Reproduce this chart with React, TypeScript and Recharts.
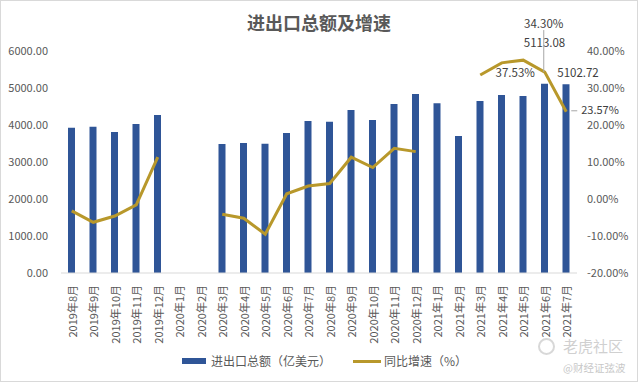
import { ComposedChart, Bar, Line, XAxis, YAxis, LabelList } from 'recharts';

const months = [
  '2019年8月', '2019年9月', '2019年10月', '2019年11月', '2019年12月',
  '2020年1月', '2020年2月', '2020年3月', '2020年4月', '2020年5月',
  '2020年6月', '2020年7月', '2020年8月', '2020年9月', '2020年10月',
  '2020年11月', '2020年12月', '2021年1月', '2021年2月', '2021年3月',
  '2021年4月', '2021年5月', '2021年6月', '2021年7月',
];

// 进出口总额（亿美元）
const totals = [
  3927, 3955, 3811, 4027, 4270,
  null, null, 3486, 3514, 3490,
  3784, 4108, 4089, 4405, 4135,
  4568, 4838, 4586, 3703, 4649,
  4811, 4784, 5113.08, 5102.72,
];

// 同比增速（%）
const growth = [
  -3.2, -6.3, -4.6, -1.6, 11.3,
  null, null, -4.1, -5.2, -9.5,
  1.4, 3.5, 4.2, 11.3, 8.5,
  13.7, 12.8, null, null, 33.5,
  36.8, 37.53, 34.3, 23.57,
];

const leftTicks = [0, 1000, 2000, 3000, 4000, 5000, 6000];
const rightTicks = [-20, -10, 0, 10, 20, 30, 40];

const data = months.map((m, i) => ({ month: m, total: totals[i], growth: growth[i] }));

const BAR = '#2F5597';
const GOLD = '#B8982B';
const TICK = '#595959';
const LABEL = '#404040';
const FONT = '"Noto Sans CJK SC", "Noto Sans", sans-serif';

const MonthTick = ({ x, y, payload }: any) => (
  <text
    x={x}
    y={y}
    transform={`rotate(-90 ${x} ${y})`}
    textAnchor="end"
    dominantBaseline="central"
    fontSize={11}
    fill={TICK}
    fontFamily={FONT}
  >
    {payload.value}
  </text>
);

const barLabel = (props: any) => {
  const { x, y, width, value } = props;
  const idx = totals.indexOf(Number(value));
  if (idx !== 22 && idx !== 23) return null;
  const cx = Number(x) + Number(width) / 2 + (idx === 23 ? 12 : 0);
  const ty = idx === 22 ? Number(y) - 42 : Number(y) - 12;
  return (
    <text x={cx} y={ty} textAnchor="middle" dominantBaseline="central" fontSize={11.5} fill={LABEL} fontFamily={FONT}>
      {Number(value).toFixed(2)}
    </text>
  );
};

const lineLabel = (props: any) => {
  const { x, y, value, index } = props;
  const txt = `${Number(value).toFixed(2)}%`;
  if (index === 21) {
    return (
      <text x={x - 8} y={y + 12} textAnchor="middle" dominantBaseline="central" fontSize={11.5} fill={LABEL} fontFamily={FONT}>
        {txt}
      </text>
    );
  }
  if (index === 22) {
    return (
      <g>
        <line x1={x - 1} y1={y - 42} x2={x - 1} y2={y} stroke="#A6A6A6" strokeWidth={1} />
        <text x={x - 1} y={y - 49} textAnchor="middle" dominantBaseline="central" fontSize={11.5} fill={LABEL} fontFamily={FONT}>
          {txt}
        </text>
      </g>
    );
  }
  if (index === 23) {
    return (
      <g>
        <line x1={x + 5} y1={y - 1} x2={x + 11} y2={y - 1} stroke="#A6A6A6" strokeWidth={1} />
        <text x={x + 15} y={y - 3} textAnchor="start" dominantBaseline="central" fontSize={11} fill={LABEL} fontFamily={FONT}>
          {txt}
        </text>
      </g>
    );
  }
  return null;
};

export default function App() {
  return (
    <div style={{ position: 'relative', width: 638, height: 382, background: '#fff', fontFamily: FONT }}>
      <style>{'body{margin:0}'}</style>
      <div
        style={{
          position: 'absolute', top: 9, left: 0, width: 638, textAlign: 'center',
          fontSize: 18, fontWeight: 'bold', color: TICK, lineHeight: '26px',
        }}
      >
        进出口总额及增速
      </div>
      <ComposedChart width={638} height={382} data={data} margin={{ top: 51, right: 0, bottom: 39, left: 0 }}>
        <XAxis
          dataKey="month"
          interval={0}
          height={70}
          tick={<MonthTick />}
          tickLine={false}
          tickMargin={6}
          axisLine={{ stroke: '#D9D9D9' }}
        />
        <YAxis
          yAxisId="left"
          width={61}
          domain={[0, 6000]}
          ticks={leftTicks}
          tickFormatter={(v: number) => v.toFixed(2)}
          axisLine={false}
          tickLine={false}
          tickMargin={7}
          tick={{ fontSize: 11, fill: TICK, fontFamily: FONT }}
        />
        <YAxis
          yAxisId="right"
          orientation="right"
          width={61}
          domain={[-20, 40]}
          ticks={rightTicks}
          tickFormatter={(v: number) => `${v.toFixed(2)}%`}
          axisLine={false}
          tickLine={false}
          tickMargin={4}
          tick={{ fontSize: 11, fill: TICK, fontFamily: FONT, textAnchor: 'start' }}
        />
        <Bar yAxisId="left" dataKey="total" fill={BAR} barSize={7} isAnimationActive={false}>
          <LabelList dataKey="total" content={barLabel} />
        </Bar>
        <Line
          yAxisId="right"
          dataKey="growth"
          stroke={GOLD}
          strokeWidth={3}
          dot={false}
          activeDot={false}
          connectNulls={false}
          isAnimationActive={false}
        >
          <LabelList dataKey="growth" content={lineLabel} />
        </Line>
      </ComposedChart>
      <div
        style={{
          position: 'absolute', top: 352, left: 182, display: 'flex', alignItems: 'center',
          fontSize: 12, color: TICK, lineHeight: '18px', whiteSpace: 'nowrap',
        }}
      >
        <span style={{ display: 'inline-block', width: 24, height: 6, background: BAR, marginRight: 5 }} />
        <span>进出口总额（亿美元）</span>
        <span style={{ display: 'inline-block', width: 28, height: 3, background: GOLD, marginLeft: 22, marginRight: 3 }} />
        <span>同比增速（%）</span>
      </div>
      <div style={{ position: 'absolute', top: 335, left: 538, color: '#D0D0D0', fontSize: 15, lineHeight: '22px', whiteSpace: 'nowrap', display: 'flex', alignItems: 'center' }}>
        <span style={{ display: 'inline-block', width: 13, height: 13, border: '2px solid #D8D8D8', borderRadius: '50%', marginRight: 8 }} />
        老虎社区
      </div>
      <div style={{ position: 'absolute', top: 360, left: 563, color: '#C8C8C8', fontSize: 10.5, lineHeight: '16px', whiteSpace: 'nowrap' }}>
        @财经证弦波
      </div>
      <div style={{ position: 'absolute', inset: 0, border: '1px solid #D9D9D9', pointerEvents: 'none' }} />
    </div>
  );
}
